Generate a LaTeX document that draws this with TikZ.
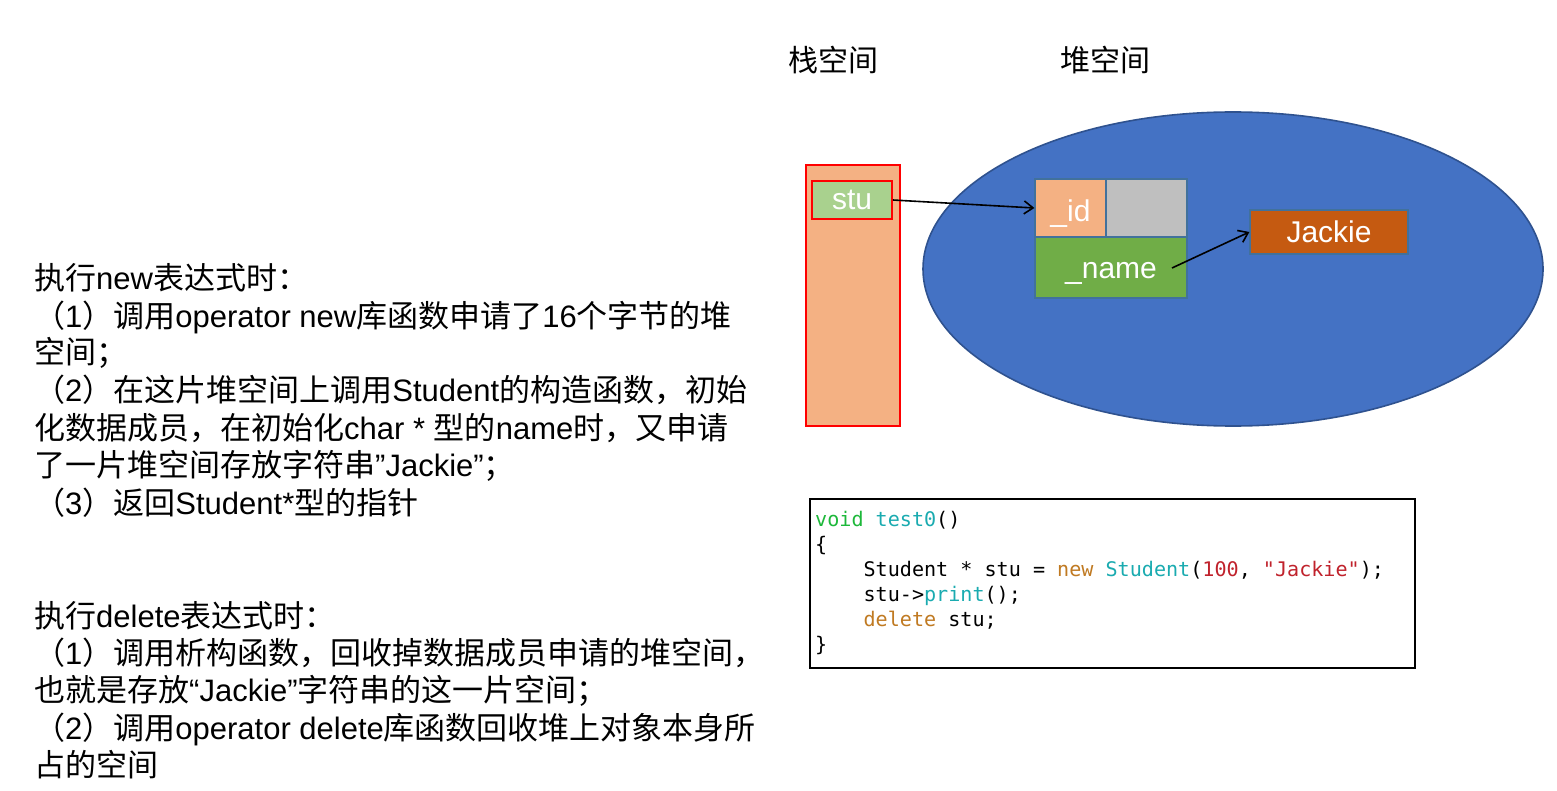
\documentclass[tikz,border=0pt]{standalone}
\usepackage{fontspec}
\setmainfont{Liberation Sans}
\newfontfamily\zhfont{Noto Sans CJK SC}
\newfontfamily\codefont{DejaVu Sans Mono}
\newcommand\zh[1]{{\zhfont #1}}
\newcommand\lowtext[1]{\raisebox{-6pt}[\height][\depth]{#1}}
\usetikzlibrary{arrows.meta,shapes.geometric}
\definecolor{stackfill}{HTML}{F4B183}
\definecolor{stufill}{HTML}{A9D18E}
\definecolor{heapfill}{HTML}{4472C4}
\definecolor{heapline}{HTML}{2F528F}
\definecolor{grayfill}{HTML}{BFBFBF}
\definecolor{namefill}{HTML}{70AD47}
\definecolor{jackfill}{HTML}{C55A11}
\definecolor{boxline}{HTML}{41719C}
\definecolor{ckw}{HTML}{1DB83A}
\definecolor{cfn}{HTML}{1AABB0}
\definecolor{cop}{HTML}{C07A22}
\definecolor{cnum}{HTML}{C0222C}
\tikzset{
  memcell/.style={draw=boxline, line width=1.2pt, inner sep=0pt, text=white,
    font=\fontsize{30}{36}\selectfont},
  txtline/.style={anchor=base west, inner sep=0pt, font=\fontsize{31}{37.5}\selectfont},
  codeline/.style={anchor=base west, inner sep=0pt, font=\codefont\fontsize{20.1}{25}\selectfont},
  ptr/.style={-{Straight Barb[length=9pt,width=13pt,line width=1.6pt]}, line width=1.6pt, black},
  title/.style={inner sep=0pt, font=\zhfont\fontsize{30}{36}\selectfont}
}
\begin{document}
\begin{tikzpicture}[x=1pt,y=-1pt]
\useasboundingbox[fill=white] (0,0) rectangle (1557,791);
% titles
\node[title] (stacklabel) at (833,60) {栈空间};
\node[title] (heaplabel) at (1105,60) {堆空间};
% stack
\node[draw=red, fill=stackfill, line width=1.6pt, minimum width=94pt, minimum height=261pt, inner sep=0pt] (stack) at (853,295.5) {};
\node[draw=red, fill=stufill, line width=1.6pt, minimum width=80pt, minimum height=38pt, inner sep=0pt, text=white, font=\fontsize{30}{36}\selectfont] (stu) at (852,200) {stu};
% heap
\node[ellipse, draw=heapline, fill=heapfill, line width=1.6pt, minimum width=620pt, minimum height=314pt, inner sep=0pt] (heap) at (1233,269) {};
\node[memcell, fill=stackfill, minimum width=71pt, minimum height=58pt] (id) at (1070.5,208) {\lowtext{\_id}};
\node[memcell, fill=grayfill, minimum width=81pt, minimum height=58pt] (pad) at (1146.5,208) {};
\node[memcell, fill=namefill, minimum width=152pt, minimum height=61pt] (name) at (1111,267.5) {\lowtext{\_name}};
\node[memcell, fill=jackfill, minimum width=158pt, minimum height=44pt] (jackie) at (1329,232) {Jackie};
\coordinate (nameptr) at (1172,268);
\draw[ptr] (stu.east) -- (id.west);
\draw[ptr] (nameptr) -- (jackie.west);
% code
\node[draw=black, line width=1.6pt, minimum width=605pt, minimum height=169pt, inner sep=0pt] (codebox) at (1112.5,583.5) {};
\node[codeline] (c1) at (815,526) {\textcolor{ckw}{void} \textcolor{cfn}{test0}()};
\node[codeline] (c2) at (815,551) {\{};
\node[codeline] (c3) at (815,576) {\phantom{xxxx}Student * stu = \textcolor{cop}{new} \textcolor{cfn}{Student}(\textcolor{cnum}{100}, \textcolor{cnum}{"Jackie"});};
\node[codeline] (c4) at (815,601) {\phantom{xxxx}stu->\textcolor{cfn}{print}();};
\node[codeline] (c5) at (815,626) {\phantom{xxxx}\textcolor{cop}{delete} stu;};
\node[codeline] (c6) at (815,651) {\}};
% left text
\node[txtline] (t1) at (34,290) {\zh{执行}new\zh{表达式时：}};
\node[txtline] (t2) at (34,327) {\zh{（}1\zh{）调用}operator new\zh{库函数申请了}16\zh{个字节的堆}};
\node[txtline] (t3) at (34,363) {\zh{空间；}};
\node[txtline] (t4) at (34,401) {\zh{（}2\zh{）在这片堆空间上调用}Student\zh{的构造函数，初始}};
\node[txtline] (t5) at (34,439) {\zh{化数据成员，在初始化}char * \zh{型的}name\zh{时，又申请}};
\node[txtline] (t6) at (34,476) {\zh{了一片堆空间存放字符串}”Jackie”\zh{；}};
\node[txtline] (t7) at (34,514) {\zh{（}3\zh{）返回}Student*\zh{型的指针}};
\node[txtline] (t8) at (34,627) {\zh{执行}delete\zh{表达式时：}};
\node[txtline] (t9) at (34,664) {\zh{（}1\zh{）调用析构函数，回收掉数据成员申请的堆空间，}};
\node[txtline] (t10) at (34,701) {\zh{也就是存放}“Jackie”\zh{字符串的这一片空间；}};
\node[txtline] (t11) at (34,739) {\zh{（}2\zh{）调用}operator delete\zh{库函数回收堆上对象本身所}};
\node[txtline] (t12) at (34,776) {\zh{占的空间}};
\end{tikzpicture}
\end{document}
